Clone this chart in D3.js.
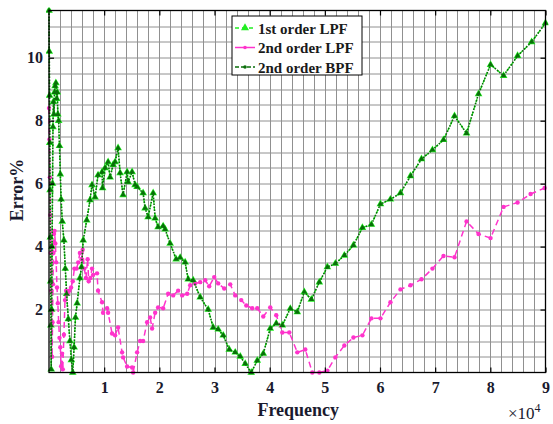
<!DOCTYPE html>
<html>
<head>
<meta charset="utf-8">
<script src="https://cdn.jsdelivr.net/npm/d3@7"></script>
<style>
  html, body { margin: 0; padding: 0; background: #fff; }
  svg { display: block; }
  text { font-family: "Liberation Serif", "DejaVu Serif", serif; }
</style>
</head>
<body>
<div id="chart"></div>
<script>
// ---------------- DATA ----------------
const seriesNames = ["1st order LPF", "2nd order LPF", "2nd order BPF"];
const xTickValues = [10000, 20000, 30000, 40000, 50000, 60000, 70000, 80000, 90000];
const xTickLabels = ["1", "2", "3", "4", "5", "6", "7", "8", "9"];
const yTickValues = [2, 4, 6, 8, 10];
const yTickLabels = ["2", "4", "6", "8", "10"];

// 2nd order BPF (dark green, dotted) – frequency (Hz) and error (%)
const bpfFreq = [0, 50, 100, 150, 200, 250, 300, 350, 400, 480, 560, 640, 720, 800, 900, 1000, 1100, 1250, 1400, 1500, 1600, 1750, 1900, 2050, 2200, 2400, 2700, 2950, 3200, 3500, 3800, 4050, 4300, 4550, 4800, 5100, 5600, 5900, 6200, 6840, 7440, 7800, 8350, 8890, 9620, 9710, 10160, 10710, 11070, 11620, 11980, 12520, 12890, 13430, 14160, 14340, 15060, 15610, 15970, 17060, 17420, 17970, 18880, 19240, 19780, 20690, 21050, 21960, 23050, 23780, 24680, 25230, 26140, 27410, 28860, 29770, 30670, 31580, 32670, 33760, 34670, 35570, 36660, 37750, 38840, 40110, 41200, 42290, 43740, 45010, 46280, 47550, 49000, 50460, 51910, 53540, 55180, 56810, 58440, 60080, 61890, 63710, 65520, 67520, 69510, 71510, 73510, 75690, 77860, 80040, 82400, 84940, 87480, 90000];
const bpfError = [11.5, 10.2, 8.8, 7.3, 5.8, 4.3, 2.9, 1.5, 0.1, 2.0, 4.0, 6.0, 7.8, 8.6, 8.2, 8.9, 9.1, 9.2, 8.7, 8.9, 8.2, 8.0, 7.2, 6.3, 5.5, 4.8, 4.2, 3.3, 2.5, 1.7, 1.0, 0.4, 0.0, 0.8, 1.75, 2.2, 3.0, 3.35, 4.2, 4.84, 5.48, 5.96, 5.57, 6.27, 6.37, 5.86, 6.5, 6.69, 6.2, 6.6, 6.69, 7.13, 6.34, 5.64, 6.37, 6.05, 6.37, 5.96, 5.9, 5.7, 5.22, 4.94, 5.7, 4.9, 4.62, 4.65, 4.55, 4.1, 3.6, 3.65, 3.5, 2.96, 2.93, 2.39, 2.0, 1.43, 1.37, 1.18, 0.73, 0.64, 0.51, 0.28, 0.0, 0.38, 0.6, 1.4, 1.56, 1.5, 2.03, 1.92, 2.56, 2.32, 2.87, 3.35, 3.46, 3.72, 4.04, 4.6, 4.7, 5.35, 5.5, 5.7, 6.24, 6.78, 7.07, 7.39, 8.15, 7.6, 8.85, 9.78, 9.43, 10.06, 10.5, 11.1];

// 1st order LPF (bright green) – lies under the BPF curve in the reference
const lpf1Freq = bpfFreq;
const lpf1Error = bpfError;

// 2nd order LPF (magenta, dashed)
const lpf2Freq = [0, 80, 160, 240, 320, 400, 480, 560, 640, 720, 800, 900, 1000, 1150, 1300, 1450, 1600, 1750, 1900, 2050, 2200, 2350, 2500, 2700, 2900, 3100, 3400, 3700, 4000, 4300, 4600, 5000, 5300, 5600, 5900, 6100, 6400, 6700, 7000, 7200, 7500, 7800, 7990, 8710, 8890, 9620, 9800, 10530, 10710, 11430, 11980, 12520, 13250, 13430, 14160, 15060, 15250, 15970, 16520, 17060, 17790, 18330, 18690, 19240, 19780, 20690, 21600, 22510, 23410, 24140, 25050, 25590, 26500, 27410, 28310, 29040, 29950, 30670, 31760, 32850, 33760, 34850, 35760, 36840, 37750, 38840, 40110, 41200, 42290, 43560, 45010, 46460, 47730, 49000, 50460, 51910, 53540, 55180, 56810, 58450, 60080, 61890, 63710, 65520, 67520, 69510, 71510, 73510, 75690, 77860, 80040, 82400, 84940, 87300, 89840];
const lpf2Error = [8.4, 7.4, 6.2, 5.0, 3.8, 2.6, 1.5, 0.5, 1.6, 2.8, 3.8, 4.4, 4.5, 4.1, 3.5, 2.7, 2.2, 1.6, 1.1, 0.8, 0.2, 0.6, 0.1, 1.2, 2.3, 2.6, 2.5, 2.6, 2.7, 2.9, 3.3, 3.3, 3.5, 3.8, 3.6, 3.9, 3.3, 3.0, 3.6, 2.9, 3.0, 3.3, 3.1, 3.15, 2.6, 2.23, 1.9, 2.04, 1.9, 1.24, 1.18, 1.43, 0.64, 0.48, 0.19, 0.16, 0.0, 0.64, 1.0, 1.0, 1.6, 1.75, 1.4, 1.9, 2.07, 2.04, 2.5, 2.45, 2.6, 2.45, 2.5, 2.77, 2.83, 2.87, 2.93, 2.74, 3.03, 2.83, 2.67, 2.8, 2.45, 2.3, 2.13, 2.04, 2.04, 1.78, 2.07, 1.82, 1.27, 1.27, 0.64, 0.73, 0.0, 0.0, 0.06, 0.48, 0.86, 1.11, 1.18, 1.72, 1.72, 2.23, 2.64, 2.77, 2.96, 3.3, 3.7, 3.66, 4.8, 4.4, 4.27, 5.26, 5.4, 5.67, 5.86];

// ---------------- LAYOUT ----------------
const W = 553, H = 424;
const margin = { left: 49, right: 7.5, top: 10.5, bottom: 51.5 };
const iw = W - margin.left - margin.right;
const ih = H - margin.top - margin.bottom;

const svg = d3.select("#chart").append("svg").attr("width", W).attr("height", H);
const g = svg.append("g").attr("transform", `translate(${margin.left},${margin.top})`);

const x = d3.scaleLinear().domain([0, 90000]).range([0, iw]);
const y = d3.scaleLinear().domain([0, 11.5]).range([ih, 0]);

// grid
const grid = g.append("g").attr("class", "grid");
grid.selectAll("line.v").data(d3.range(2000, 90000, 2000)).join("line")
  .attr("x1", d => Math.round(x(d)) + 0.5).attr("x2", d => Math.round(x(d)) + 0.5)
  .attr("y1", 0).attr("y2", ih)
  .attr("stroke", "#909090").attr("stroke-width", 1);
grid.selectAll("line.h").data(d3.range(0.5, 11.5, 0.5)).join("line")
  .attr("y1", d => Math.round(y(d)) + 0.5).attr("y2", d => Math.round(y(d)) + 0.5)
  .attr("x1", 0).attr("x2", iw)
  .attr("stroke", "#909090").attr("stroke-width", 1);

// series
svg.append("clipPath").attr("id", "clip").append("rect")
  .attr("x", -3).attr("y", -3).attr("width", iw + 6).attr("height", ih + 6);
const plot = g.append("g").attr("clip-path", "url(#clip)");

function pts(fx, fy) { return fx.map((f, i) => [f, fy[i]]); }
const line = d3.line().x(d => x(d[0])).y(d => y(d[1]));
const tri = d3.symbol().type(d3.symbolTriangle);

// 1st order LPF
const d1 = pts(lpf1Freq, lpf1Error);
plot.append("path").datum(d1).attr("d", line).attr("fill", "none")
  .attr("stroke", "#22ee22").attr("stroke-width", 1.3).attr("stroke-dasharray", "4,3");
plot.append("g").selectAll("path").data(d1).join("path")
  .attr("d", tri.size(26)())
  .attr("transform", d => `translate(${x(d[0])},${y(d[1])})`)
  .attr("fill", "#22ee22");

// 2nd order LPF
const d2 = pts(lpf2Freq, lpf2Error);
plot.append("path").datum(d2).attr("d", line).attr("fill", "none")
  .attr("stroke", "#ff33cc").attr("stroke-width", 1.5).attr("stroke-dasharray", "6,4");
plot.append("g").selectAll("circle").data(d2).join("circle")
  .attr("cx", d => x(d[0])).attr("cy", d => y(d[1])).attr("r", 2.2)
  .attr("fill", "#ff33cc");

// 2nd order BPF
const d3s = pts(bpfFreq, bpfError);
plot.append("path").datum(d3s).attr("d", line).attr("fill", "none")
  .attr("stroke", "#0a6e0a").attr("stroke-width", 1.6).attr("stroke-dasharray", "1.6,1.4");
plot.append("g").selectAll("path").data(d3s).join("path")
  .attr("d", tri.size(14)())
  .attr("transform", d => `translate(${x(d[0])},${y(d[1])})`)
  .attr("fill", "#0a6e0a");

// axes (inward ticks on all four sides)
const tickFont = (sel) => sel.selectAll("text")
  .attr("font-family", "Liberation Serif, serif").attr("font-weight", "bold")
  .attr("font-size", 16).attr("fill", "#1a1a2e");

const xAxis = g.append("g").attr("transform", `translate(0,${ih})`)
  .call(d3.axisBottom(x).tickValues(xTickValues).tickFormat((d, i) => xTickLabels[i]).tickSize(-5).tickPadding(9));
xAxis.call(tickFont);
xAxis.select(".domain").remove();

const yAxis = g.append("g")
  .call(d3.axisLeft(y).tickValues(yTickValues).tickFormat((d, i) => yTickLabels[i]).tickSize(-5).tickPadding(6));
yAxis.call(tickFont);
yAxis.select(".domain").remove();

g.append("g").call(d3.axisTop(x).tickValues(xTickValues).tickFormat("").tickSize(-5))
  .select(".domain").remove();
g.append("g").attr("transform", `translate(${iw},0)`)
  .call(d3.axisRight(y).tickValues(yTickValues).tickFormat("").tickSize(-5))
  .select(".domain").remove();

g.selectAll(".tick line").attr("stroke", "#000").attr("stroke-width", 1.2);

// frame
g.append("rect").attr("x", 0).attr("y", 0).attr("width", iw).attr("height", ih)
  .attr("fill", "none").attr("stroke", "#000").attr("stroke-width", 1.3);

// axis titles
svg.append("text").attr("x", margin.left + iw / 2 + 1).attr("y", 416)
  .attr("text-anchor", "middle").attr("font-weight", "bold").attr("font-size", 18)
  .attr("fill", "#1a1a2e").text("Frequency");
svg.append("text").attr("transform", "translate(23,190) rotate(-90)")
  .attr("text-anchor", "middle").attr("font-weight", "bold").attr("font-size", 18)
  .attr("fill", "#1a1a2e").text("Error%");

const expo = svg.append("text").attr("x", 508).attr("y", 419).attr("font-size", 17).attr("fill", "#1a1a2e");
expo.append("tspan").text("×10");
expo.append("tspan").attr("dy", -7).attr("font-size", 12).text("4");

// legend
const lg = svg.append("g").attr("transform", "translate(232,16)");
lg.append("rect").attr("width", 130).attr("height", 59).attr("fill", "#fff")
  .attr("stroke", "#000").attr("stroke-width", 1);
const legendStyles = [
  { stroke: "#22ee22", dash: "4,3", marker: "tri", fill: "#22ee22", w: 1.3 },
  { stroke: "#ff33cc", dash: null, marker: "dot", fill: "#ff33cc", w: 1.5 },
  { stroke: "#0a6e0a", dash: "4,2", marker: "dot", fill: "#0a6e0a", w: 1.3 }
];
seriesNames.forEach((name, i) => {
  const row = lg.append("g").attr("transform", `translate(0,${12 + i * 19.5})`);
  const s = legendStyles[i];
  row.append("line").attr("x1", 3).attr("x2", 23).attr("y1", 0).attr("y2", 0)
    .attr("stroke", s.stroke).attr("stroke-width", s.w)
    .attr("stroke-dasharray", s.dash);
  if (s.marker === "tri") {
    row.append("path").attr("d", tri.size(28)()).attr("transform", "translate(13,0)").attr("fill", s.fill);
  } else {
    row.append("circle").attr("cx", 13).attr("cy", 0).attr("r", 1.8).attr("fill", s.fill);
  }
  row.append("text").attr("x", 26).attr("y", 5.5).attr("font-weight", "bold")
    .attr("font-size", 15).attr("fill", "#1a1a1a").text(name);
});
</script>
</body>
</html>
